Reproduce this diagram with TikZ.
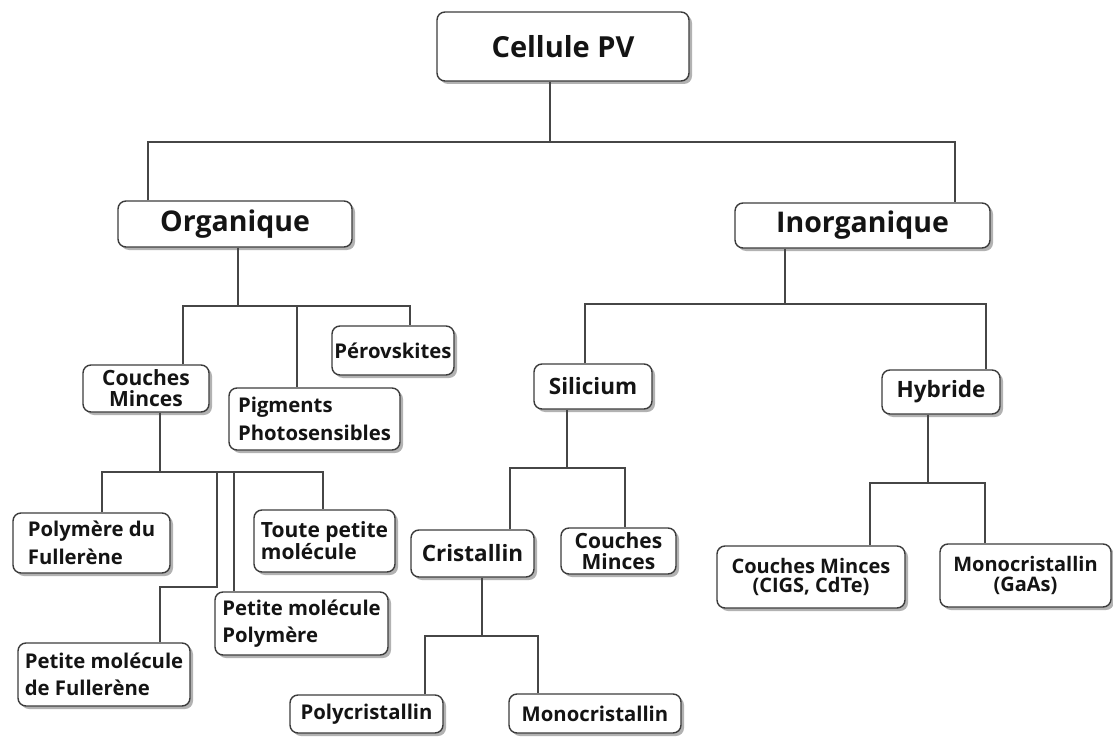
\documentclass[tikz,border=0pt]{standalone}
\usepackage{fontspec}
\setmainfont{Open Sans}
\usetikzlibrary{shadows}
\definecolor{bc}{RGB}{60,60,60}
\definecolor{lc}{RGB}{70,70,70}
\definecolor{tc}{RGB}{20,20,20}
\begin{document}
\begin{tikzpicture}[x=1pt,y=-1pt,
  box/.style={draw=bc, line width=1.4pt, rounded corners=8pt, fill=white,
    drop shadow={shadow xshift=3pt, shadow yshift=-3pt, opacity=0.3, fill=black},
    inner sep=0pt, text=tc, align=center},
  ln/.style={draw=lc, line width=1.3pt},
  big/.style={font=\bfseries\fontsize{29}{36}\selectfont},
  mid/.style={font=\bfseries\fontsize{28.5}{34}\selectfont},
  lg/.style={font=\bfseries\fontsize{22.5}{27}\selectfont},
  sm/.style={font=\bfseries\fontsize{20.3}{27.5}\selectfont},
  smt/.style={font=\bfseries\fontsize{21}{21}\selectfont},
  smtt/.style={font=\bfseries\fontsize{20}{19.5}\selectfont},
]
\fill[white] (0,0) rectangle (1113,738);
\useasboundingbox (0,0) rectangle (1113,738);

% nodes
\node[box, big, minimum width=252pt, minimum height=69pt] (cell) at (563,46.5) {Cellule PV};
\node[box, mid, minimum width=234pt, minimum height=46pt] (org) at (235,224) {Organique};
\node[box, mid, minimum width=255pt, minimum height=45pt] (inorg) at (862.5,225.5) {Inorganique};

\node[box, smt, minimum width=126pt, minimum height=47pt] (cm1) at (146,388.5) {Couches\\Minces};
\node[box, sm, align=left, minimum width=171pt, minimum height=62pt] (pig) at (314.5,419) {Pigments\\Photosensibles};
\node[box, sm, minimum width=122pt, minimum height=49pt] (per) at (393,350.5) {Pérovskites};

\node[box, sm, align=left, minimum width=157pt, minimum height=60pt] (polf) at (91.5,543) {Polymère du\\Fullerène};
\node[box, smt, align=left, minimum width=141pt, minimum height=62pt] (tpm) at (324.5,541) {Toute petite\\molécule};
\node[box, sm, align=left, minimum width=173pt, minimum height=63pt] (pmp) at (301.5,623.5) {Petite molécule\\Polymère};
\node[box, sm, align=left, minimum width=172pt, minimum height=63pt] (pmf) at (104,674.5) {Petite molécule\\de Fullerène};

\node[box, lg, minimum width=118pt, minimum height=45pt] (sil) at (593,386.5) {Silicium};
\node[box, lg, minimum width=118pt, minimum height=44pt] (hyb) at (941,392) {Hybride};
\node[box, lg, minimum width=123pt, minimum height=47pt] (cri) at (472.5,553.5) {Cristallin};
\node[box, smt, minimum width=115pt, minimum height=46pt] (cm2) at (618.5,551) {Couches\\Minces};
\node[box, sm, minimum width=153pt, minimum height=38pt] (poly) at (366.5,714) {Polycristallin};
\node[box, sm, minimum width=172pt, minimum height=39pt] (mono) at (595,713.5) {Monocristallin};
\node[box, smtt, minimum width=188pt, minimum height=62pt] (cigs) at (811,577) {Couches Minces\\(CIGS, CdTe)};
\node[box, smtt, minimum width=171pt, minimum height=63pt] (gaas) at (1025.5,575.5) {Monocristallin\\(GaAs)};

% junction points
\coordinate (a0) at (550,142);
\coordinate (a1) at (148,142);
\coordinate (a2) at (955,142);
\coordinate (b0) at (238,306);
\coordinate (b1) at (183,306);
\coordinate (b2) at (297,306);
\coordinate (b3) at (410,306);
\coordinate (c0) at (785,304);
\coordinate (c1) at (585,304);
\coordinate (c2) at (986,304);
\coordinate (d0) at (567,468);
\coordinate (d1) at (510,468);
\coordinate (d2) at (625,468);
\coordinate (e0) at (482,636);
\coordinate (e1) at (425,636);
\coordinate (e2) at (538,636);
\coordinate (f0) at (928,483);
\coordinate (f1) at (870,483);
\coordinate (f2) at (985,483);
\coordinate (g0) at (160,472);
\coordinate (g1) at (102,472);
\coordinate (g2) at (217,472);
\coordinate (g3) at (234,472);
\coordinate (g4) at (323,472);
\coordinate (h1) at (217,587);
\coordinate (h2) at (160,587);

% connectors
\draw[ln] (cell.south -| a0) -- (a0);
\draw[ln] (org.north -| a1) -- (a1) -- (a2) -- (inorg.north -| a2);

\draw[ln] (org.south -| b0) -- (b0);
\draw[ln] (cm1.north -| b1) -- (b1) -- (b3) -- (per.north -| b3);
\draw[ln] (b2) -- (pig.north -| b2);

\draw[ln] (inorg.south -| c0) -- (c0);
\draw[ln] (sil.north -| c1) -- (c1) -- (c2) -- (hyb.north -| c2);

\draw[ln] (sil.south -| d0) -- (d0);
\draw[ln] (cri.north -| d1) -- (d1) -- (d2) -- (cm2.north -| d2);

\draw[ln] (cri.south -| e0) -- (e0);
\draw[ln] (poly.north -| e1) -- (e1) -- (e2) -- (mono.north -| e2);

\draw[ln] (hyb.south -| f0) -- (f0);
\draw[ln] (cigs.north -| f1) -- (f1) -- (f2) -- (gaas.north -| f2);

\draw[ln] (cm1.south -| g0) -- (g0);
\draw[ln] (polf.north -| g1) -- (g1) -- (g4) -- (tpm.north -| g4);
\draw[ln] (g2) -- (h1) -- (h2) -- (pmf.north -| h2);
\draw[ln] (g3) -- (pmp.north -| g3);
\end{tikzpicture}
\end{document}
